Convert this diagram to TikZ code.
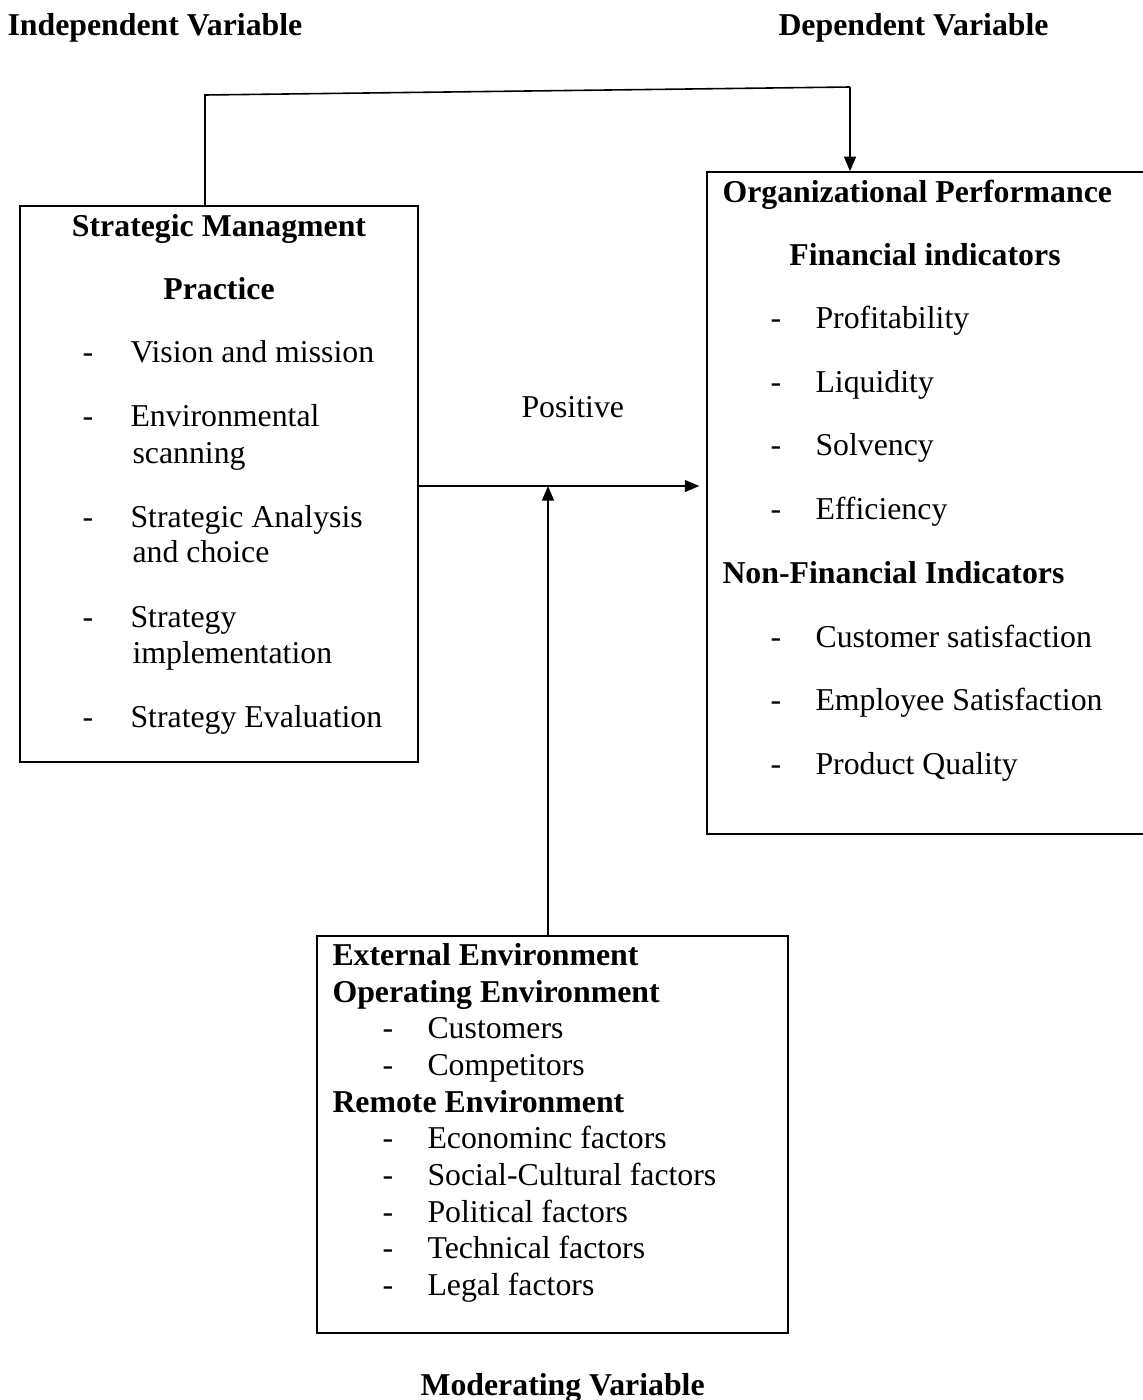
\documentclass[tikz,border=0pt]{standalone}
\usepackage{fontspec}
\setmainfont{Liberation Serif}
\usetikzlibrary{arrows.meta,positioning,fit}

\begin{document}
\begin{tikzpicture}[x=0.3774pt,y=-0.3774pt,
    box/.style={draw,line width=0.6pt,inner sep=0pt},
    txt/.style={anchor=base west,inner sep=0pt,
                font=\fontsize{12}{13.8}\selectfont},
    head/.style={txt,font=\fontsize{12}{13.8}\selectfont\bfseries},
    link/.style={line width=0.6pt},
    arr/.style={link,-{Triangle[length=5.5pt,width=4.5pt]}}]

    \useasboundingbox (0,0) rectangle (1143,1400);

    % variable titles
    \node[head] (indep) at (7,35)    {Independent Variable};
    \node[head] (dep)   at (778,35)  {Dependent Variable};
    \node[head] (moder) at (420,1395) {Moderating Variable};

    % boxes
    \node[box,fit={(20,206)(418,762)}]   (smp) {};
    \node[box,fit={(707,172)(1145,834)}] (op)  {};
    \node[box,fit={(317,936)(788,1333)}] (ext) {};

    % strategic management practice
    \node[head,anchor=base] (smp1) at (219,236) {Strategic Managment};
    \node[head,anchor=base] (smp2) at (219,299) {Practice};
    \foreach \y/\t [count=\i] in {362/Vision and mission,426/Environmental,
        527/Strategic Analysis,627/Strategy,727/Strategy Evaluation}{
      \node[txt] (smpd\i) at (82,\y)  {-};
      \node[txt] (smpi\i) at (130,\y) {\t};
    }
    \foreach \y/\t [count=\i] in {463/scanning,562/and choice,663/implementation}{
      \node[txt] (smpw\i) at (132,\y) {\t};
    }

    % organizational performance
    \node[head] (op1) at (722,202) {Organizational Performance};
    \node[head,anchor=base] (op2) at (925,265) {Financial indicators};
    \node[head] (op3) at (722,583) {Non-Financial Indicators};
    \foreach \y/\t [count=\i] in {328/Profitability,392/Liquidity,455/Solvency,
        519/Efficiency,647/Customer satisfaction,710/Employee Satisfaction,
        774/Product Quality}{
      \node[txt] (opd\i) at (770,\y) {-};
      \node[txt] (opi\i) at (815,\y) {\t};
    }

    % external environment
    \node[head] (ext1) at (332,965)  {External Environment};
    \node[head] (ext2) at (332,1002) {Operating Environment};
    \node[head] (ext3) at (332,1112) {Remote Environment};
    \foreach \y/\t [count=\i] in {1038/Customers,1075/Competitors,
        1148/Econominc factors,1185/Social-Cultural factors,
        1222/Political factors,1258/Technical factors,1295/Legal factors}{
      \node[txt] (extd\i) at (382,\y) {-};
      \node[txt] (exti\i) at (427,\y) {\t};
    }

    % connectors
    \coordinate (tl)  at (205,95);
    \coordinate (tr)  at (850,87);
    \coordinate (mid) at (548,486);
    \draw[link] (tl |- smp.north) -- (tl) -- (tr);
    \draw[arr] (tr) -- (tr |- op.north);
    \draw[arr,shorten >=2.6pt] (smp.east |- mid) -- (op.west |- mid);
    \draw[arr] (ext.north -| mid) -- (mid);
    \node[txt] (pos) at (521,417) {Positive};
\end{tikzpicture}
\end{document}
